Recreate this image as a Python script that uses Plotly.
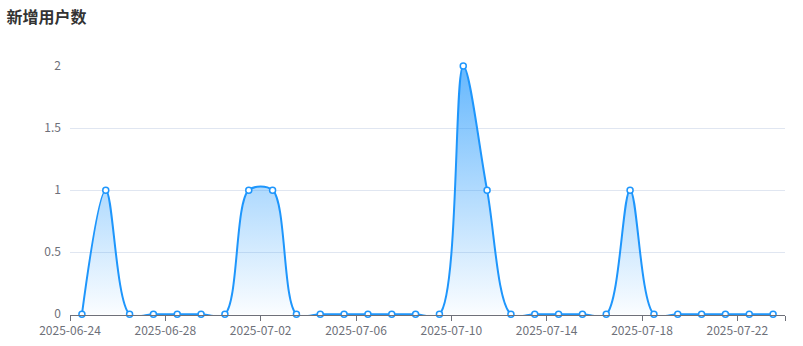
import plotly.graph_objects as go
import pandas as pd

dates = pd.date_range("2025-06-24 12:00", "2025-07-23 12:00", freq="D")
values = [0, 1, 0, 0, 0, 0, 0, 1, 1, 0,
          0, 0, 0, 0, 0, 0, 2, 1, 0, 0,
          0, 0, 0, 1, 0, 0, 0, 0, 0, 0]
tick_dates = ["2025-06-24", "2025-06-28", "2025-07-02", "2025-07-06",
              "2025-07-10", "2025-07-14", "2025-07-18", "2025-07-22", "2025-07-24"]
tick_labels = ["2025-06-24", "2025-06-28", "2025-07-02", "2025-07-06",
               "2025-07-10", "2025-07-14", "2025-07-18", "2025-07-22", ""]
y_ticks = [0, 0.5, 1, 1.5, 2]
y_labels = ["0", "0.5", "1", "1.5", "2"]

LINE = "#1e96fc"
FONT = "Noto Sans CJK SC, Noto Sans, sans-serif"

fig = go.Figure()
fig.add_trace(go.Scatter(
    x=dates, y=values, mode="lines+markers",
    line=dict(color=LINE, width=2, shape="spline", smoothing=0.9),
    marker=dict(symbol="circle", size=6, color="white", line=dict(color=LINE, width=1.5)),
    fill="tozeroy",
    fillgradient=dict(type="vertical", start=0, stop=2,
                      colorscale=[[0, "rgba(30,150,252,0.02)"], [1, "rgba(30,150,252,0.68)"]]),
    cliponaxis=False,
    hoverinfo="x+y",
))

fig.update_layout(
    width=803, height=346,
    margin=dict(l=70, r=18, t=66, b=31, autoexpand=False),
    paper_bgcolor="white", plot_bgcolor="white",
    showlegend=False,
    font=dict(family=FONT, size=12, color="#6e7079"),
    title=dict(text="<b>新增用户数</b>", x=0.008, xanchor="left", y=0.95, yanchor="middle",
               font=dict(family=FONT, size=16, color="#333333")),
)
fig.update_xaxes(
    type="date", range=["2025-06-24", "2025-07-24"],
    tickvals=tick_dates, ticktext=tick_labels,
    showgrid=False, zeroline=False, automargin=False,
    showline=True, linecolor="#6e7079", linewidth=1,
    ticks="outside", ticklen=5, tickcolor="#6e7079", tickwidth=1,
    tickfont=dict(size=12, color="#6e7079"),
)
fig.update_yaxes(
    range=[-0.006, 2], tickvals=y_ticks, ticktext=y_labels,
    showgrid=True, gridcolor="#e0e6f1", gridwidth=1,
    zeroline=False, showline=False, ticks="", automargin=False,
    ticklabelstandoff=8,
    tickfont=dict(size=12, color="#6e7079"),
)
fig.write_html("out.html")
